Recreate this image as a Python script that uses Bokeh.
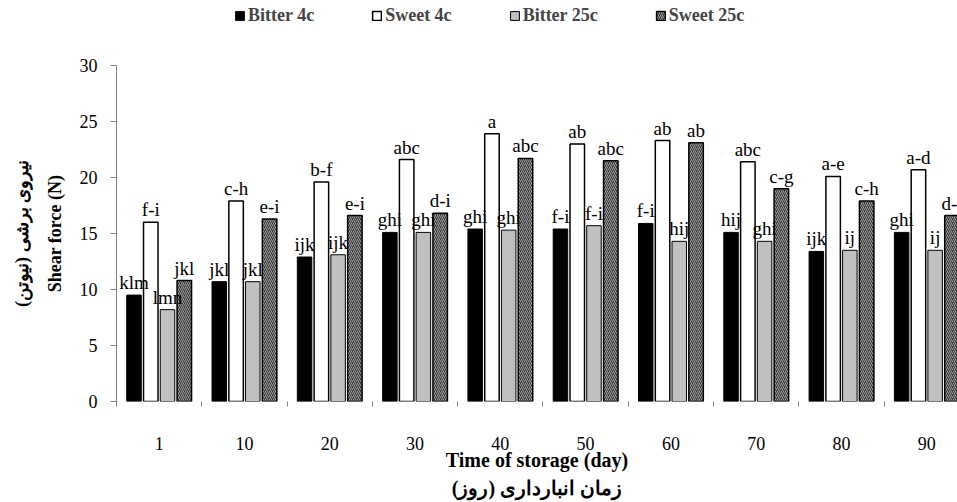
from bokeh.plotting import figure
from bokeh.layouts import column
from bokeh.models import Range1d, FixedTicker, Legend, LegendItem, ColumnDataSource, LinearAxis
from bokeh.embed import file_html
from bokeh.resources import INLINE
from bokeh.core.properties import value

days = ["1", "10", "20", "30", "40", "50", "60", "70", "80", "90"]
series = ["Bitter 4c", "Sweet 4c", "Bitter 25c", "Sweet 25c"]
bitter_4c = [9.5, 10.7, 12.9, 15.1, 15.4, 15.4, 15.9, 15.1, 13.4, 15.1]
sweet_4c = [16.0, 17.9, 19.6, 21.6, 23.9, 23.0, 23.3, 21.4, 20.1, 20.7]
bitter_25c = [8.2, 10.7, 13.1, 15.1, 15.3, 15.7, 14.3, 14.3, 13.5, 13.5]
sweet_25c = [10.8, 16.3, 16.6, 16.8, 21.7, 21.5, 23.1, 19.0, 17.9, 16.6]
letters_bitter_4c = ["klm", "jkl", "ijk", "ghi", "ghi", "f-i", "f-i", "hij", "ijk", "ghi"]
letters_sweet_4c = ["f-i", "c-h", "b-f", "abc", "a", "ab", "ab", "abc", "a-e", "a-d"]
letters_bitter_25c = ["lmn", "jkl", "ijk", "ghi", "ghi", "f-i", "hij", "ghi", "ij", "ij"]
letters_sweet_25c = ["jkl", "e-i", "e-i", "d-i", "abc", "abc", "ab", "c-g", "c-h", "d-i"]
y_ticks = [0, 5, 10, 15, 20, 25, 30]

all_values = [bitter_4c, sweet_4c, bitter_25c, sweet_25c]
all_letters = [letters_bitter_4c, letters_sweet_4c, letters_bitter_25c, letters_sweet_25c]

FONT = "Liberation Serif"

offsets = [-0.295, -0.098, 0.098, 0.295]
bar_styles = [
    dict(fill_color="black", line_color="black", line_width=1),
    dict(fill_color="white", line_color="black", line_width=1.5),
    dict(fill_color="#c0c0c0", line_color="black", line_width=1),
    dict(fill_color="#383838", line_color="black", line_width=1.5,
         hatch_pattern="/", hatch_color="#a0a0a0", hatch_scale=4, hatch_weight=1),
]

sources = []
for k in range(4):
    xs = [i + 0.5 + offsets[k] for i in range(len(days))]
    sources.append(ColumnDataSource(dict(x=xs, top=all_values[k], lab=all_letters[k])))

# ---- legend strip on top (shares the series' data sources; its glyphs stay hidden) ----
lg = figure(width=957, height=30, output_backend="svg", toolbar_location=None,
            x_range=Range1d(0, 9.86), y_range=Range1d(0, 30), x_axis_type=None, y_axis_type=None,
            min_border_left=116, min_border_right=0, min_border_top=0, min_border_bottom=0)
lg.outline_line_color = None
lg.xgrid.visible = False
lg.ygrid.visible = False
items = []
for k in range(4):
    r = lg.vbar(x="x", top="top", width=0.17, bottom=0, source=sources[k], visible=False, **bar_styles[k])
    items.append(LegendItem(label=series[k], renderers=[r]))
legend = Legend(items=items, orientation="horizontal", location=(118, 4),
                glyph_width=11, glyph_height=11, label_standoff=3, spacing=57,
                label_text_font=FONT, label_text_font_style="bold", label_text_font_size="18px",
                label_height=11, background_fill_alpha=0, border_line_color=None,
                inactive_fill_alpha=0, padding=0, margin=0)
lg.add_layout(legend)

# ---- main chart ----
p = figure(width=957, height=472, output_backend="svg", toolbar_location=None,
           x_range=Range1d(0, 9.86), y_range=Range1d(0, 30),
           min_border_left=116, min_border_right=0, min_border_top=35, min_border_bottom=99)
p.outline_line_color = None
p.xgrid.visible = False
p.ygrid.visible = False

for k in range(4):
    p.vbar(x="x", top="top", width=0.17, bottom=0, source=sources[k], **bar_styles[k])
for k in range(4):
    p.text(x="x", y="top", text="lab", source=sources[k], text_align="center", text_baseline="bottom",
           y_offset=-2, text_font=value(FONT), text_font_size="19px", text_color="black")

# x axis
xa = p.xaxis[0]
xa.ticker = FixedTicker(ticks=[i + 0.5 for i in range(len(days))],
                        minor_ticks=[float(i) for i in range(len(days) + 1)])
xa.major_label_overrides = {i + 0.5: d for i, d in enumerate(days)}
xa.major_tick_line_color = None
xa.major_tick_out = 0
xa.major_tick_in = 0
xa.minor_tick_line_color = "#808080"
xa.minor_tick_out = 5
xa.minor_tick_in = 0
xa.axis_line_color = None
xa.major_label_standoff = 30
xa.major_label_text_font = FONT
xa.major_label_text_font_size = "18px"
xa.major_label_text_color = "black"
xa.axis_label = "Time of storage (day)\nزمان انبارداری (روز)"
xa.axis_label_text_font = FONT
xa.axis_label_text_font_style = "bold"
xa.axis_label_text_font_size = "20px"
xa.axis_label_text_line_height = 1.3
xa.axis_label_standoff = -4
xa.axis_label_text_color = "black"

# y axis (English title)
ya = p.yaxis[0]
ya.ticker = FixedTicker(ticks=y_ticks)
ya.minor_tick_line_color = None
ya.major_tick_out = 6
ya.major_tick_in = 0
ya.major_tick_line_color = "#808080"
ya.axis_line_color = "#808080"
ya.major_label_standoff = 13
ya.major_label_text_font = FONT
ya.major_label_text_font_size = "18px"
ya.major_label_text_color = "black"
ya.axis_label = "Shear force (N)"
ya.axis_label_text_font = FONT
ya.axis_label_text_font_style = "bold"
ya.axis_label_text_font_size = "18px"
ya.axis_label_standoff = 12
ya.axis_label_text_color = "black"

# outer left axis carrying only the Persian title
ya2 = LinearAxis(ticker=FixedTicker(ticks=[]), axis_line_color=None,
                 major_tick_line_color=None, minor_tick_line_color=None,
                 major_tick_out=0, major_tick_in=0, major_label_standoff=0,
                 axis_label="نیروی برشی (نیوتن)", axis_label_text_font=FONT,
                 axis_label_text_font_style="bold", axis_label_text_font_size="18px",
                 axis_label_standoff=10, axis_label_text_color="black")
p.add_layout(ya2, "left")

layout = column(lg, p, spacing=0)
open("out.html", "w").write(file_html(layout, INLINE))
